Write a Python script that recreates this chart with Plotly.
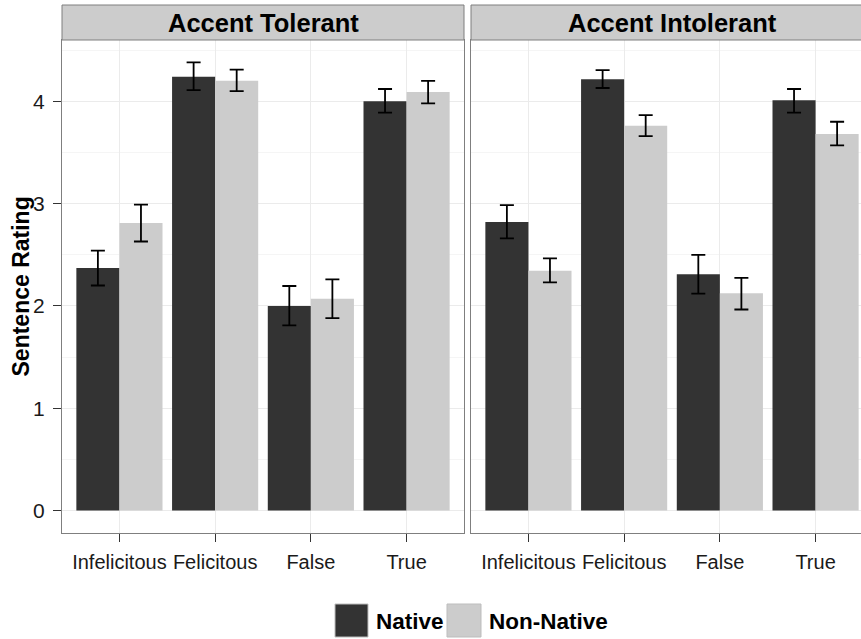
import plotly.graph_objects as go

# ---------------- data ----------------
categories = ["Infelicitous", "Felicitous", "False", "True"]
panels = ["Accent Tolerant", "Accent Intolerant"]
groups = ["Native", "Non-Native"]

tol_native = [2.37, 4.24, 2.00, 4.00]
tol_native_lo = [2.20, 4.11, 1.81, 3.89]
tol_native_hi = [2.54, 4.38, 2.195, 4.12]
tol_nonnative = [2.81, 4.20, 2.07, 4.09]
tol_nonnative_lo = [2.63, 4.10, 1.88, 3.98]
tol_nonnative_hi = [2.99, 4.31, 2.26, 4.20]

int_native = [2.82, 4.215, 2.31, 4.01]
int_native_lo = [2.66, 4.13, 2.12, 3.89]
int_native_hi = [2.985, 4.305, 2.50, 4.12]
int_nonnative = [2.345, 3.76, 2.125, 3.68]
int_nonnative_lo = [2.23, 3.66, 1.965, 3.57]
int_nonnative_hi = [2.465, 3.865, 2.275, 3.80]

y_ticks = [0, 1, 2, 3, 4]
# --------------------------------------

colors = {"Native": "#333333", "Non-Native": "#cccccc"}
FONT = "Liberation Sans, Arial, sans-serif"

W, H = 861, 639
ML, MR, MT, MB = 62, 0, 40, 106
PW = W - ML - MR
PH = H - MT - MB


def px_x(p):
    return (p - ML) / PW


def px_y(p):
    return (H - MB - p) / PH


fig = go.Figure()

panel_data = [
    ("x", "y", [(tol_native, tol_native_lo, tol_native_hi), (tol_nonnative, tol_nonnative_lo, tol_nonnative_hi)]),
    ("x2", "y2", [(int_native, int_native_lo, int_native_hi), (int_nonnative, int_nonnative_lo, int_nonnative_hi)]),
]

for xa, ya, series in panel_data:
    for g, (vals, lo, hi) in zip(groups, series):
        fig.add_trace(go.Bar(
            x=categories, y=vals, name=g,
            marker=dict(color=colors[g], line=dict(width=0)),
            error_y=dict(type="data", symmetric=False,
                         array=[h - v for h, v in zip(hi, vals)],
                         arrayminus=[v - l for v, l in zip(vals, lo)],
                         color="black", thickness=1.8, width=7),
            xaxis=xa, yaxis=ya, showlegend=False,
        ))

left_dom = [0, px_x(464)]
right_dom = [px_x(471), 1]
unit = (464 - 62) / 4.2
right_max = -0.6 + (861 - 471) / unit

xcommon = dict(type="category", categoryorder="array", categoryarray=categories,
               showgrid=True, gridcolor="#ebebeb", gridwidth=1,
               showline=True, mirror=True, linecolor="#7f7f7f", linewidth=1,
               ticks="outside", ticklen=8, tickcolor="#333333", tickwidth=1,
               tickfont=dict(family=FONT, size=20, color="#1a1a1a"),
               ticklabelstandoff=3, zeroline=False, fixedrange=True)
ycommon = dict(range=[-0.219, 4.599], tickvals=y_ticks,
               showgrid=True, gridcolor="#ebebeb", gridwidth=1,
               minor=dict(dtick=0.5, tick0=0, showgrid=True, gridcolor="#f5f5f5", ticks=""),
               zeroline=False, linecolor="#7f7f7f", linewidth=1, showline=True,
               tickfont=dict(family=FONT, size=21, color="#1a1a1a"), fixedrange=True)

fig.update_layout(
    width=W, height=H,
    margin=dict(l=ML, r=MR, t=MT, b=MB),
    paper_bgcolor="white", plot_bgcolor="white",
    barmode="group", bargap=0.1, bargroupgap=0,
    font=dict(family=FONT, color="black"),
    xaxis=dict(domain=left_dom, range=[-0.6, 3.6], anchor="y", **xcommon),
    xaxis2=dict(domain=right_dom, range=[-0.6, right_max], anchor="y2", **xcommon),
    yaxis=dict(domain=[0, 1], anchor="x", mirror=True, ticks="outside", ticklen=8,
               tickcolor="#333333", tickwidth=1, ticklabelstandoff=4, **ycommon),
    yaxis2=dict(domain=[0, 1], anchor="x2", matches="y", mirror=False, ticks="",
                showticklabels=False, **ycommon),
)

shapes = []
annotations = []

# facet strips
strip_top = px_y(5)
for x0, x1, cx, label in [(62, 464, 263, panels[0]), (471, 900, 672, panels[1])]:
    shapes.append(dict(type="rect", xref="paper", yref="paper",
                       x0=px_x(x0), x1=px_x(x1), y0=1, y1=strip_top,
                       fillcolor="#cccccc", line=dict(color="#7f7f7f", width=1), layer="above"))
    annotations.append(dict(xref="paper", yref="paper", x=px_x(cx), y=px_y(23),
                            text="<b>%s</b>" % label, showarrow=False,
                            xanchor="center", yanchor="middle",
                            font=dict(family=FONT, size=25.5, color="black")))

# y axis title
annotations.append(dict(xref="paper", yref="paper", x=px_x(20), y=0.5,
                        text="<b>Sentence Rating</b>", textangle=-90, showarrow=False,
                        xanchor="center", yanchor="middle",
                        font=dict(family=FONT, size=23, color="black")))

# legend
for g, kx0, kx1, tx in [("Native", 335, 368, 374), ("Non-Native", 447, 481, 487)]:
    shapes.append(dict(type="rect", xref="paper", yref="paper",
                       x0=px_x(kx0), x1=px_x(kx1), y0=px_y(637), y1=px_y(604),
                       fillcolor=colors[g], line=dict(color="#bdbdbd", width=1)))
    annotations.append(dict(xref="paper", yref="paper", x=px_x(tx), y=px_y(621),
                            text="<b>%s</b>" % g, showarrow=False,
                            xanchor="left", yanchor="middle",
                            font=dict(family=FONT, size=22.5, color="black")))

fig.update_layout(shapes=shapes, annotations=annotations)

fig.write_html("out.html", config={"displayModeBar": False},
               post_script="document.body.style.margin='0';document.body.style.overflow='hidden';")
